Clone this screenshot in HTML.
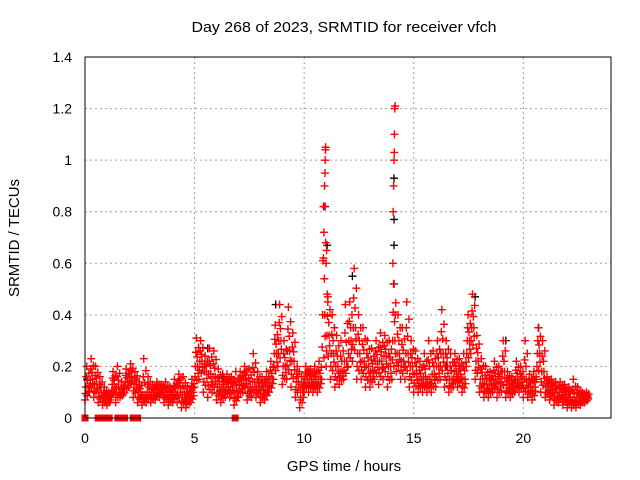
<!DOCTYPE html>
<html><head><meta charset="utf-8"><style>
html,body{margin:0;padding:0;background:#fff;}
svg{display:block;font-family:"Liberation Sans",sans-serif;}
</style></head><body>
<svg id="chart" width="640" height="480" viewBox="0 0 640 480"></svg>
<script>
const yTicks=[0,0.2,0.4,0.6,0.8,1,1.2,1.4];
const yTickLabels=["0","0.2","0.4","0.6","0.8","1","1.2","1.4"];
const xTicks=[0,5,10,15,20];
const xTickLabels=["0","5","10","15","20"];
const binStart=0, binStep=0.2;
const lo=[.07,.1,.08,.06,.05,.05,.08,.06,.08,.1,.12,.08,.06,.05,.06,.06,.07,.08,.06,.05,.06,.06,.04,.04,.06,.12,.15,.1,.08,.1,.07,.06,.08,.08,.05,.08,.1,.07,.08,.08,.06,.07,.1,.15,.2,.13,.15,.12,.08,.04,.1,.1,.1,.1,.15,.2,.15,.12,.13,.15,.2,.22,.15,.15,.12,.12,.15,.13,.15,.12,.15,.18,.15,.15,.12,.1,.1,.1,.1,.1,.12,.15,.12,.1,.12,.12,.1,.2,.25,.15,.1,.08,.08,.1,.08,.1,.08,.08,.1,.1,.08,.08,.07,.15,.1,.08,.07,.05,.06,.05,.04,.04,.04,.05,.06];
const mid=[.12,.15,.13,.1,.08,.08,.13,.12,.1,.14,.16,.13,.1,.09,.1,.1,.11,.11,.1,.09,.1,.12,.09,.08,.1,.2,.22,.18,.17,.16,.12,.11,.12,.12,.1,.13,.15,.12,.14,.12,.11,.12,.15,.25,.3,.2,.26,.22,.14,.1,.15,.15,.14,.15,.4,.32,.25,.2,.18,.22,.3,.35,.25,.22,.2,.18,.22,.22,.24,.2,.3,.25,.22,.25,.2,.17,.15,.16,.15,.17,.2,.25,.2,.15,.18,.17,.15,.3,.35,.22,.15,.13,.13,.15,.14,.18,.13,.12,.15,.14,.15,.12,.12,.25,.18,.12,.11,.1,.1,.09,.08,.07,.08,.08,.08];
const hi=[.2,.23,.2,.16,.12,.1,.18,.2,.14,.19,.21,.18,.14,.23,.16,.13,.14,.13,.14,.12,.15,.17,.16,.12,.15,.31,.3,.24,.27,.26,.19,.17,.17,.16,.18,.18,.2,.19,.25,.18,.16,.18,.22,.36,.44,.3,.43,.33,.2,.16,.2,.19,.2,.22,.82,.47,.4,.32,.3,.44,.45,.58,.4,.35,.3,.27,.3,.33,.32,.3,.52,.4,.35,.45,.3,.26,.22,.25,.3,.26,.3,.42,.3,.25,.25,.23,.25,.4,.48,.32,.23,.2,.18,.22,.2,.3,.18,.16,.22,.2,.3,.17,.18,.35,.3,.16,.15,.14,.14,.13,.12,.15,.12,.1,.1];
const spikeHours=[10.88,10.9,10.92,10.93,10.95,10.96,10.97,10.98,11.0,11.02,11.05,11.08,14.05,14.06,14.08,14.1,14.11,14.12,14.13,14.15,14.16];
const spikeVals=[0.62,0.72,0.82,0.9,0.95,1.0,1.04,1.05,0.6,0.65,0.48,0.45,0.6,0.8,0.9,1.0,1.03,1.1,1.2,1.21,0.4];
const zeroHours=[0.0,0.6,0.7,0.8,0.9,1.0,1.1,1.5,1.6,1.8,2.2,2.3,2.4,6.85];
const blackHours=[10.95,11.05,14.1,14.1,14.1,14.1,8.7,20.7,5.6,17.8,12.2,0.1,6.3,16.5,19.2];
const blackVals=[0.82,0.67,0.93,0.77,0.67,0.52,0.44,0.35,0.27,0.47,0.55,0.15,0.16,0.2,0.3];

const L=85,R=611,T=57,B=418;
const xs=h=>L+(h/24)*(R-L);
const ys=v=>B-(v/1.4)*(B-T);
const svg=document.getElementById('chart');
const NS='http://www.w3.org/2000/svg';
function mk(tag,attrs,parent){const e=document.createElementNS(NS,tag);for(const k in attrs)e.setAttribute(k,attrs[k]);(parent||svg).appendChild(e);return e;}
const grid=mk('g',{});


yTicks.forEach((v,i)=>{
  if(i>0&&i<yTicks.length-1){mk('line',{x1:L,x2:R,y1:ys(v),y2:ys(v),stroke:'#a0a0a0','stroke-dasharray':'2,3'},grid);}
  const t=mk('text',{x:L-13,y:ys(v)+5,'text-anchor':'end','font-size':'14',fill:'#000'});
  
  
  t.textContent=yTickLabels[i];
});
xTicks.forEach((h,i)=>{
  if(i>0){mk('line',{x1:xs(h),x2:xs(h),y1:T,y2:B,stroke:'#a0a0a0','stroke-dasharray':'2,3'},grid);}
  const t=mk('text',{x:xs(h),y:B+25,'text-anchor':'middle','font-size':'14',fill:'#000'});
  
  
  t.textContent=xTickLabels[i];
});
const blk=mk('g',{stroke:'#000','stroke-width':'1.3',fill:'none'});


const pts=mk('g',{stroke:'#ff0000','stroke-width':'1.4',fill:'none'});


function plus(h,v,g){const x=xs(h),y=ys(v);mk('path',{d:`M${x-4} ${y}H${x+4}M${x} ${y-4}V${y+4}`},g);}
blackHours.forEach((h,i)=>plus(h,blackVals[i],blk));
lo.forEach((v,i)=>{
  const t=binStart+i*binStep, m=mid[i], u=hi[i];
  plus(t,v,pts);
  plus(t+0.02,(v+m)/2,pts);
  plus(t+0.04,m,pts);
  plus(t+0.06,(m+u)/2,pts);
  plus(t+0.08,u,pts);
  plus(t+0.1,(v*2+m)/3,pts);
  plus(t+0.12,(m*2+u)/3,pts);
  plus(t+0.14,m,pts);
  plus(t+0.16,(v+m*2)/3,pts);
  plus(t+0.18,(m+u*2)/3,pts);
});
spikeHours.forEach((h,i)=>plus(h,spikeVals[i],pts));
const zg=mk('g',{fill:'#ff0000'});


zeroHours.forEach(h=>mk('rect',{x:xs(h)-3.5,y:B-3.5,width:7,height:7},zg));
const frame=mk('rect',{x:L,y:T,width:R-L,height:B-T,fill:'none',stroke:'#000','stroke-width':'1'});


const title=mk('text',{x:344,y:32,'text-anchor':'middle','font-size':'15',fill:'#000',textLength:'305',lengthAdjust:'spacingAndGlyphs'});


title.textContent='Day 268 of 2023, SRMTID for receiver vfch';
const xt=mk('text',{x:344,y:471,'text-anchor':'middle','font-size':'15',fill:'#000'});


xt.textContent='GPS time / hours';
const yt=mk('text',{x:19,y:238,'text-anchor':'middle','font-size':'15',fill:'#000',transform:'rotate(-90 19 238)'});


yt.textContent='SRMTID / TECUs';
</script>
</body></html>
